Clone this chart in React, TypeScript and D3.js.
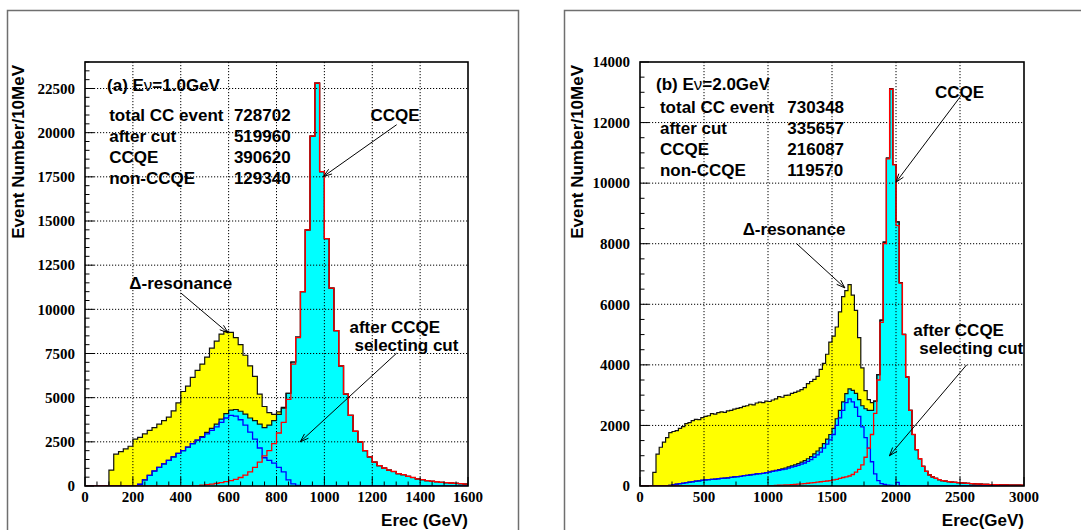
import React from 'react';
import * as d3 from 'd3';

const SANS = "'Liberation Sans', Arial, Helvetica, sans-serif";
const SERIF = "'Liberation Serif', 'Times New Roman', Times, serif";

// ---- (a) Ev = 1.0 GeV : 20 MeV bins from 0 to 1600 MeV
const binA = 20;
const totalA = [
  0, 0, 0, 0, 0, 900, 1800, 1950, 2100, 2250,
  2650, 2750, 2950, 3150, 3300, 3500, 3700, 3900, 4250, 4700,
  5350, 5650, 6150, 6550, 6900, 7300, 7800, 8200, 8600, 8750,
  8700, 8400, 8000, 7400, 6800, 6200, 5200, 4500, 4150, 4050,
  4200, 4450, 5250, 7020, 8430, 11000, 14500, 19800, 22800, 17800,
  14000, 11200, 8800, 6800, 5200, 4000, 3100, 2500, 2000, 1650,
  1350, 1150, 1020, 900, 820, 700, 640, 540, 480, 400,
  360, 300, 270, 240, 210, 190, 170, 150, 130, 110,
];
const nonCcqeA = [
  0, 0, 0, 0, 0, 0, 0, 0, 0, 0,
  0, 100, 350, 600, 850, 1050, 1250, 1450, 1650, 1850,
  2000, 2200, 2400, 2600, 2750, 2950, 3150, 3350, 3600, 3850,
  4000, 3950, 3750, 3450, 3050, 2650, 2150, 1600, 1450, 1300,
  1050, 800, 350, 120, 30, 0, 0, 0, 0, 0,
  0, 0, 0, 0, 0, 0, 0, 0, 0, 0,
  0, 0, 0, 0, 0, 0, 0, 0, 0, 0,
  0, 0, 0, 0, 0, 0, 0, 0, 0, 0,
];
const ccqeA = [
  0, 0, 0, 0, 0, 0, 0, 0, 0, 0,
  0, 0, 0, 0, 0, 0, 0, 0, 0, 0,
  0, 0, 0, 0, 50, 80, 110, 150, 190, 250,
  300, 380, 480, 620, 800, 1050, 1350, 1700, 2000, 2400,
  3000, 3600, 4900, 6900, 8400, 11000, 14500, 19800, 22800, 17800,
  14000, 11200, 8800, 6800, 5200, 4000, 3100, 2500, 2000, 1650,
  1350, 1150, 1020, 900, 820, 700, 640, 540, 480, 400,
  360, 300, 270, 240, 210, 190, 170, 150, 130, 110,
];
const xTicksA = [0, 200, 400, 600, 800, 1000, 1200, 1400, 1600];
const yTicksA = [0, 2500, 5000, 7500, 10000, 12500, 15000, 17500, 20000, 22500];
const statsA: [string, string][] = [
  ['total CC event', '728702'],
  ['after cut', '519960'],
  ['CCQE', '390620'],
  ['non-CCQE', '129340'],
];

// ---- (b) Ev = 2.0 GeV : 25 MeV bins from 0 to 3000 MeV
const binB = 25;
const totalB = [
  0, 0, 0, 0, 450, 1050, 1280, 1450, 1600, 1760,
  1800, 1830, 1900, 1960, 2060, 2090, 2160, 2200, 2190, 2260,
  2300, 2320, 2390, 2370, 2420, 2450, 2430, 2480, 2500, 2540,
  2560, 2590, 2630, 2650, 2700, 2680, 2740, 2770, 2750, 2800,
  2790, 2840, 2880, 2950, 2930, 2990, 3000, 3060, 3090, 3130,
  3180, 3250, 3380, 3450, 3520, 3620, 3850, 4050, 4350, 4750,
  4950, 5250, 5750, 6250, 6450, 6650, 6300, 5800, 4900, 3900,
  3150, 2850, 2750, 2800, 3680, 5480, 8050, 10830, 13120, 10615,
  8720, 6715, 5010, 3605, 2500, 1700, 1200, 900, 650, 480,
  370, 300, 250, 210, 180, 160, 145, 130, 120, 110,
  100, 92, 85, 78, 72, 66, 60, 56, 52, 48,
  45, 42, 39, 36, 34, 32, 30, 28, 26, 25,
];
const nonCcqeB = [
  0, 0, 0, 0, 0, 0, 0, 0, 0, 20,
  40, 60, 80, 90, 110, 130, 140, 160, 170, 190,
  200, 210, 220, 230, 240, 250, 260, 270, 285, 300,
  310, 320, 340, 350, 370, 380, 400, 410, 420, 440,
  460, 480, 500, 520, 540, 560, 590, 620, 650, 680,
  720, 760, 810, 870, 950, 1030, 1120, 1250, 1380, 1520,
  1700, 2000, 2250, 2500, 2750, 2880, 2780, 2600, 2300, 1950,
  1600, 1250, 800, 400, 180, 80, 50, 30, 20, 15,
  120, 15, 10, 5, 0, 0, 0, 0, 0, 0,
  0, 0, 0, 0, 0, 0, 0, 0, 0, 0,
  0, 0, 0, 0, 0, 0, 0, 0, 0, 0,
  0, 0, 0, 0, 0, 0, 0, 0, 0, 0,
];
const ccqeB = [
  0, 0, 0, 0, 0, 0, 0, 0, 0, 0,
  0, 0, 0, 0, 0, 0, 0, 0, 0, 0,
  0, 0, 0, 0, 0, 0, 0, 0, 0, 0,
  0, 0, 0, 0, 0, 0, 0, 0, 0, 0,
  10, 15, 20, 25, 30, 35, 40, 45, 50, 60,
  70, 80, 90, 100, 110, 125, 140, 150, 165, 180,
  200, 220, 250, 280, 300, 330, 380, 460, 550, 700,
  950, 1250, 1700, 2400, 3500, 5400, 8000, 10800, 13100, 10600,
  8600, 6700, 5000, 3600, 2500, 1700, 1200, 900, 650, 480,
  370, 300, 250, 210, 180, 160, 145, 130, 120, 110,
  100, 92, 85, 78, 72, 66, 60, 56, 52, 48,
  45, 42, 39, 36, 34, 32, 30, 28, 26, 25,
];
const xTicksB = [0, 500, 1000, 1500, 2000, 2500, 3000];
const yTicksB = [0, 2000, 4000, 6000, 8000, 10000, 12000, 14000];
const statsB: [string, string][] = [
  ['total CC event', '730348'],
  ['after cut', '335657'],
  ['CCQE', '216087'],
  ['non-CCQE', '119570'],
];

type Pt = [number, number];
interface Note { lines: string[]; at: Pt; dy?: number; indent?: number }
interface Arrow { from: Pt; to: Pt }

interface PanelProps {
  id: string;
  frameX: number; frameW: number;
  left: number; right: number; top: number; bottom: number;
  xMax: number; yMax: number; bin: number;
  total: number[]; nonCcqe: number[]; ccqe: number[];
  xTicks: number[]; yTicks: number[]; xMinorStep: number; yMinorStep: number;
  energy: string; tag: string; titleAt: Pt;
  stats: [string, string][]; statsAt: Pt; numX: number; statsDy: number;
  notes: Note[]; arrows: Arrow[];
  xTitle: string; yTitleX: number;
}

const arrowPath = (x1: number, y1: number, x2: number, y2: number) => {
  const a = Math.atan2(y2 - y1, x2 - x1);
  const L = 9, w = 0.33;
  const h1 = [x2 - L * Math.cos(a - w), y2 - L * Math.sin(a - w)];
  const h2 = [x2 - L * Math.cos(a + w), y2 - L * Math.sin(a + w)];
  return `M${x1},${y1}L${x2},${y2}M${h1[0]},${h1[1]}L${x2},${y2}L${h2[0]},${h2[1]}`;
};

function Panel(p: PanelProps) {
  const x = d3.scaleLinear().domain([0, p.xMax]).range([p.left, p.right]);
  const y = d3.scaleLinear().domain([0, p.yMax]).range([p.bottom, p.top]);
  const n = p.total.length;
  const afterCut = p.nonCcqe.map((v, i) => v + p.ccqe[i]);

  const steps = (vals: number[]): Pt[] =>
    [...vals.map((v, i) => [i * p.bin, v] as Pt), [n * p.bin, vals[n - 1]] as Pt];
  const line = d3.line<Pt>().x(d => x(d[0])).y(d => y(d[1])).curve(d3.curveStepAfter);
  const area = d3.area<Pt>().x(d => x(d[0])).y0(y(0)).y1(d => y(d[1])).curve(d3.curveStepAfter);

  const xMinor = d3.range(0, p.xMax + 1e-6, p.xMinorStep);
  const yMinor = d3.range(0, p.yMax + 1e-6, p.yMinorStep);
  const clip = `clip-${p.id}`;

  return (
    <g>
      <rect x={p.frameX + 0.5} y={10.5} width={p.frameW} height={560} fill="none" stroke="#6f6f6f" strokeWidth={1.5} />
      <defs>
        <clipPath id={clip}>
          <rect x={p.left} y={p.top} width={p.right - p.left} height={p.bottom - p.top} />
        </clipPath>
      </defs>

      <g clipPath={`url(#${clip})`}>
        <path d={area(steps(p.total)) || ''} fill="#ffff00" />
        <path d={area(steps(afterCut)) || ''} fill="#00ffff" />
        {/* grid */}
        {p.xTicks.slice(1, -1).map(t => (
          <line key={`gx${t}`} x1={x(t)} x2={x(t)} y1={p.top} y2={p.bottom}
            stroke="#000" strokeWidth={1} strokeDasharray="1.2 1.8" />
        ))}
        {p.yTicks.filter(t => t > 0 && t < p.yMax).map(t => (
          <line key={`gy${t}`} x1={p.left} x2={p.right} y1={y(t)} y2={y(t)}
            stroke="#000" strokeWidth={1} strokeDasharray="1.2 1.8" />
        ))}
        <path d={line(steps(p.total)) || ''} fill="none" stroke="#111" strokeWidth={1.2} />
        <path d={line(steps(afterCut)) || ''} fill="none" stroke="#111" strokeWidth={1.2} />
        <path d={line(steps(p.nonCcqe)) || ''} fill="none" stroke="#0000ff" strokeWidth={1.3} />
        <path d={line(steps(p.ccqe)) || ''} fill="none" stroke="#ff0000" strokeWidth={1.3} />
      </g>

      <rect x={p.left} y={p.top} width={p.right - p.left} height={p.bottom - p.top}
        fill="none" stroke="#000" strokeWidth={1.6} />

      {/* ticks */}
      {yMinor.map(t => (
        <line key={`ym${t}`} x1={p.left} x2={p.left + (p.yTicks.includes(t) ? 9 : 4.5)}
          y1={y(t)} y2={y(t)} stroke="#000" strokeWidth={1} />
      ))}
      {xMinor.map(t => (
        <line key={`xm${t}`} y1={p.bottom} y2={p.bottom - (p.xTicks.includes(t) ? 9 : 4.5)}
          x1={x(t)} x2={x(t)} stroke="#000" strokeWidth={1} />
      ))}
      {p.yTicks.map(t => (
        <text key={`yl${t}`} x={p.left - 10} y={y(t)} dy="0.35em" textAnchor="end"
          fontFamily={SERIF} fontWeight="bold" fontSize={15}>{t}</text>
      ))}
      {p.xTicks.map(t => (
        <text key={`xl${t}`} x={x(t)} y={p.bottom + 16} textAnchor="middle"
          fontFamily={SERIF} fontWeight="bold" fontSize={15}>{t}</text>
      ))}

      {/* axis titles */}
      <text x={p.right} y={526} textAnchor="end" fontFamily={SANS} fontWeight="bold" fontSize={17}>{p.xTitle}</text>
      <text transform={`translate(${p.yTitleX},${p.top + 3}) rotate(-90)`} textAnchor="end"
        fontFamily={SANS} fontWeight="bold" fontSize={17}>Event Number/10MeV</text>

      {/* annotations */}
      <g fontFamily={SANS} fontWeight="bold" fontSize={17} fill="#000">
        <text x={x(p.titleAt[0])} y={y(p.titleAt[1])}>
          {p.tag} E<tspan fontWeight="normal">ν</tspan>={p.energy}
        </text>
        {p.stats.map(([label, value], i) => (
          <g key={label}>
            <text x={x(p.statsAt[0])} y={y(p.statsAt[1]) + i * p.statsDy}>{label}</text>
            <text x={x(p.numX)} y={y(p.statsAt[1]) + i * p.statsDy}>{value}</text>
          </g>
        ))}
        {p.notes.map((nt, k) => (
          <text key={k} x={x(nt.at[0])} y={y(nt.at[1])}>
            {nt.lines.map((l, j) => (
              <tspan key={j} x={x(nt.at[0]) + (j > 0 ? nt.indent || 0 : 0)} dy={j === 0 ? 0 : nt.dy || 18}>{l}</tspan>
            ))}
          </text>
        ))}
      </g>
      {p.arrows.map((a, k) => (
        <path key={k} d={arrowPath(x(a.from[0]), y(a.from[1]), x(a.to[0]), y(a.to[1]))}
          fill="none" stroke="#000" strokeWidth={1} />
      ))}
    </g>
  );
}

export default function App() {
  return (
    <svg width={1081} height={530} viewBox="0 0 1081 530"
      style={{ position: 'absolute', left: 0, top: 0, background: '#fff' }}>
      <rect width={1081} height={530} fill="#fff" />
      <Panel
        id="a" frameX={7} frameW={511} left={85} right={468} top={62} bottom={486}
        xMax={1600} yMax={24000} bin={binA}
        total={totalA} nonCcqe={nonCcqeA} ccqe={ccqeA}
        xTicks={xTicksA} yTicks={yTicksA} xMinorStep={50} yMinorStep={500}
        tag="(a)" energy="1.0GeV" titleAt={[92, 22350]}
        stats={statsA} statsAt={[101, 20640]} numX={622} statsDy={21}
        notes={[
          { lines: ['CCQE'], at: [1193, 20640] },
          { lines: ['Δ-resonance'], at: [185, 11170] },
          { lines: ['after CCQE', 'selecting cut'], at: [1105, 8660], dy: 18, indent: 5 },
        ]}
        arrows={[
          { from: [1302, 20450], to: [996, 17520] },
          { from: [400, 10930], to: [598, 8660] },
          { from: [1302, 7520], to: [899, 2500] },
        ]}
        xTitle="Erec (GeV)" yTitleX={24}
      />
      <Panel
        id="b" frameX={564} frameW={560} left={640} right={1024} top={62} bottom={486}
        xMax={3000} yMax={14000} bin={binB}
        total={totalB} nonCcqe={nonCcqeB} ccqe={ccqeB}
        xTicks={xTicksB} yTicks={yTicksB} xMinorStep={250} yMinorStep={500}
        tag="(b)" energy="2.0GeV" titleAt={[125, 13060]}
        stats={statsB} statsAt={[156, 12300]} numX={1151} statsDy={21}
        notes={[
          { lines: ['CCQE'], at: [2305, 12800] },
          { lines: ['Δ-resonance'], at: [802, 8280] },
          { lines: ['after CCQE', 'selecting cut'], at: [2135, 4950], dy: 18, indent: 6 },
        ]}
        arrows={[
          { from: [2505, 12870], to: [2000, 10030] },
          { from: [1224, 8000], to: [1601, 6540] },
          { from: [2552, 4000], to: [1948, 995] },
        ]}
        xTitle="Erec(GeV)" yTitleX={583}
      />
    </svg>
  );
}
